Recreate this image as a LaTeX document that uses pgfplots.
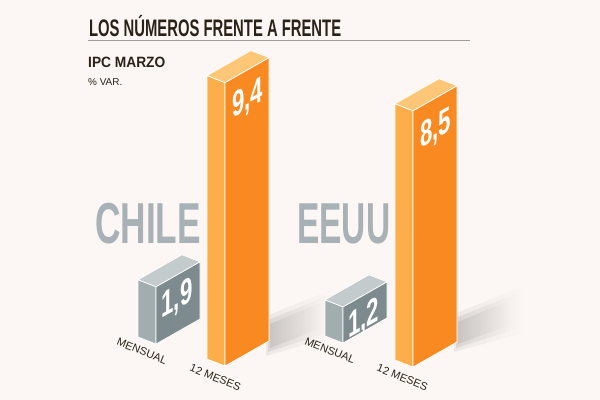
\documentclass[border=0pt]{standalone}
\usepackage{pgfplots}
\pgfplotsset{compat=1.18}
\usepackage{graphicx}
\usepackage{fontspec}
\setmainfont{Liberation Sans}
\usetikzlibrary{fadings}

\definecolor{paper}{HTML}{FCF7F4}
\definecolor{ink}{HTML}{2A2218}
\definecolor{rule}{HTML}{A09A94}
\definecolor{orFront}{HTML}{F98A21}
\definecolor{orSide}{HTML}{FDAE4B}
\definecolor{orTop}{HTML}{FEC777}
\definecolor{grFront}{HTML}{7D8B8E}
\definecolor{grSide}{HTML}{A2ADB0}
\definecolor{grTop}{HTML}{C3CBCD}
\definecolor{country}{HTML}{A8B2B6}

% Isometric block: #1 x of front-left edge, #2 floor y, #3 value,
% #4 front colour, #5 side colour, #6 top colour
\newcommand\isobar[6]{%
  \pgfmathsetmacro\bh{#3*30.15}%
  \pgfmathsetmacro\xl{#1-18}%
  \pgfmathsetmacro\xr{#1+44}%
  \pgfmathsetmacro\xb{#1+26}%
  \pgfmathsetmacro\yfb{#2}%
  \pgfmathsetmacro\ylb{#2-7}%
  \pgfmathsetmacro\yrb{#2-25}%
  \pgfmathsetmacro\yft{#2-\bh}%
  \pgfmathsetmacro\ylt{#2-7-\bh}%
  \pgfmathsetmacro\yrt{#2-25-\bh}%
  \pgfmathsetmacro\ybt{#2-32-\bh}%
  \addplot[fill=#5, draw=white, line width=0.7pt, line join=round]
    coordinates {(\xl,\ylb) (#1,\yfb) (#1,\yft) (\xl,\ylt)} -- cycle;
  \addplot[fill=#4, draw=white, line width=0.7pt, line join=round]
    coordinates {(#1,\yfb) (\xr,\yrb) (\xr,\yrt) (#1,\yft)} -- cycle;
  \addplot[fill=#6, draw=white, line width=0.7pt, line join=round]
    coordinates {(\xl,\ylt) (#1,\yft) (\xr,\yrt) (\xb,\ybt)} -- cycle;
}

\begin{document}
\begin{tikzpicture}
\fill[paper] (0,0) rectangle (600bp,400bp);
\begin{axis}[
  at={(0,0)}, anchor=south west,
  width=600bp, height=400bp, scale only axis,
  xmin=0, xmax=600, ymin=0, ymax=400,
  y dir=reverse, hide axis, clip=false,
  shadow/.style={draw=none, fill=black, fill opacity=#1, path fading=east},
]
% soft floor shadows of the tall bars (stacked layers)
\addplot[shadow=0.06] coordinates {(266,316) (336,288) (336,336) (266,356)} -- cycle;
\addplot[shadow=0.08] coordinates {(268,320) (330,295) (330,332) (268,352)} -- cycle;
\addplot[shadow=0.08] coordinates {(270,324) (322,302) (322,328) (270,348)} -- cycle;
\addplot[shadow=0.06] coordinates {(454,314) (526,285) (526,332) (454,352)} -- cycle;
\addplot[shadow=0.08] coordinates {(456,318) (520,292) (520,328) (456,348)} -- cycle;
\addplot[shadow=0.08] coordinates {(458,322) (510,300) (510,325) (458,344)} -- cycle;

% CHILE: mensual 1.9, 12 meses 9.4
\isobar{156}{344}{1.9}{grFront}{grSide}{grTop}
\isobar{225}{366}{9.4}{orFront}{orSide}{orTop}
% EEUU: mensual 1.2, 12 meses 8.5
\isobar{343}{343}{1.2}{grFront}{grSide}{grTop}
\isobar{413}{367}{8.5}{orFront}{orSide}{orTop}

% heading
\node[anchor=base west, text=ink, xscale=0.62, inner sep=0pt,
      font=\fontsize{24}{24}\selectfont\bfseries]
  at (axis cs:89,36) {LOS NÚMEROS FRENTE A FRENTE};
\draw[rule, line width=0.8pt] (axis cs:88,40.5) -- (axis cs:470,40.5);
\node[anchor=base west, text=ink, xscale=0.92, inner sep=0pt,
      font=\fontsize{15}{15}\selectfont\bfseries]
  at (axis cs:88,67) {IPC MARZO};
\node[anchor=base west, text=ink, inner sep=0pt,
      font=\fontsize{10}{10}\selectfont]
  at (axis cs:88,85.5) {\% VAR.};

% country names
\node[anchor=base west, text=country, xscale=0.61, inner sep=0pt,
      font=\fontsize{58}{58}\selectfont\bfseries]
  at (axis cs:95,243) {CHILE};
\node[anchor=base west, text=country, xscale=0.58, inner sep=0pt,
      font=\fontsize{58}{58}\selectfont\bfseries]
  at (axis cs:297,243) {EEUU};

% values on the front faces
\node[text=white, yslant=0.57, xscale=0.62, inner sep=0pt,
      font=\fontsize{36}{36}\selectfont\bfseries]
  at (axis cs:247.5,100) {9,4};
\node[text=white, yslant=0.57, xscale=0.62, inner sep=0pt,
      font=\fontsize{36}{36}\selectfont\bfseries]
  at (axis cs:435.5,130) {8,5};
\node[text=white, yslant=0.57, xscale=0.62, inner sep=0pt,
      font=\fontsize{36}{36}\selectfont\bfseries]
  at (axis cs:177,300) {1,9};
\node[text=white, yslant=0.57, xscale=0.62, inner sep=0pt,
      font=\fontsize{36}{36}\selectfont\bfseries]
  at (axis cs:363.5,320) {1,2};

% category labels along the floor
\node[text=ink, rotate=-22, inner sep=0pt, font=\fontsize{11}{11}\selectfont]
  at (axis cs:142,351) {MENSUAL};
\node[text=ink, rotate=-22, inner sep=0pt, font=\fontsize{11}{11}\selectfont]
  at (axis cs:215.5,377.5) {12 MESES};
\node[text=ink, rotate=-22, inner sep=0pt, font=\fontsize{11}{11}\selectfont]
  at (axis cs:330,350.5) {MENSUAL};
\node[text=ink, rotate=-22, inner sep=0pt, font=\fontsize{11}{11}\selectfont]
  at (axis cs:402.5,377.5) {12 MESES};
\end{axis}
\end{tikzpicture}
\end{document}
